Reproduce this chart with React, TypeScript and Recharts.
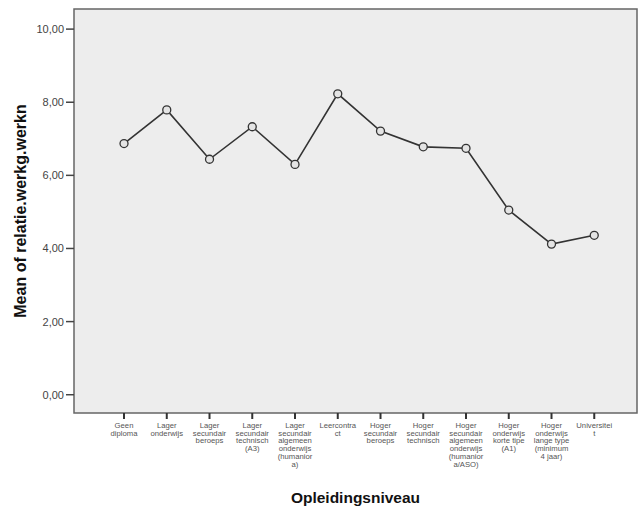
import React from 'react';
import {
  LineChart,
  Line,
  XAxis,
  YAxis,
  ReferenceArea,
  Label,
} from 'recharts';

// category labels, already wrapped the way SPSS wraps them
const categories: string[][] = [
  ['Geen', 'diploma'],
  ['Lager', 'onderwijs'],
  ['Lager', 'secundair', 'beroeps'],
  ['Lager', 'secundair', 'technisch', '(A3)'],
  ['Lager', 'secundair', 'algemeen', 'onderwijs', '(humanior', 'a)'],
  ['Leercontra', 'ct'],
  ['Hoger', 'secundair', 'beroeps'],
  ['Hoger', 'secundair', 'technisch'],
  ['Hoger', 'secundair', 'algemeen', 'onderwijs', '(humanior', 'a/ASO)'],
  ['Hoger', 'onderwijs', 'korte tipe', '(A1)'],
  ['Hoger', 'onderwijs', 'lange type', '(minimum', '4 jaar)'],
  ['Universitei', 't'],
];

const means = [6.87, 7.79, 6.44, 7.33, 6.3, 8.23, 7.21, 6.78, 6.74, 5.05, 4.12, 4.36];

const yTicks = [0, 2, 4, 6, 8, 10];

const data = means.map((v, i) => ({ idx: i, mean: v }));
const xTicks = categories.map((_, i) => i);

const FONT = 'Arial, "Liberation Sans", sans-serif';
const X_MIN = -1.17;
const X_MAX = 12.0;
const Y_MIN = -0.5;
const Y_MAX = 10.55;

// tick mark + wrapped label; y arrives 7px below the axis line
const CategoryTick = (props: any) => {
  const { x, y, payload } = props;
  const lines = categories[payload.value] || [];
  return (
    <g transform={`translate(${x},${y})`}>
      <line x1={0} x2={0} y1={-7} y2={-1} stroke="#333" strokeWidth={2} />
      <text textAnchor="middle" fontSize={7.7} fill="#555" fontFamily={FONT}>
        {lines.map((t, i) => (
          <tspan key={i} x={0} dy={i === 0 ? 8 : 7.7}>
            {t}
          </tspan>
        ))}
      </text>
    </g>
  );
};

export default function App() {
  return (
    <div style={{ position: 'absolute', left: 0, top: 0, background: '#fff' }}>
      <LineChart
        width={638}
        height={513}
        data={data}
        margin={{ top: 9, right: 1, left: 0, bottom: 0 }}
      >
        <XAxis
          dataKey="idx"
          type="number"
          domain={[X_MIN, X_MAX]}
          ticks={xTicks}
          interval={0}
          allowDataOverflow
          tick={<CategoryTick />}
          tickSize={5}
          tickLine={false}
          axisLine={false}
          height={100}
        >
          <Label
            value="Opleidingsniveau"
            position="insideBottom"
            offset={10}
            style={{ fontFamily: FONT, fontSize: 15.5, fontWeight: 'bold', fill: '#111' }}
          />
        </XAxis>
        <YAxis
          type="number"
          domain={[Y_MIN, Y_MAX]}
          ticks={yTicks}
          allowDataOverflow
          width={74}
          tickSize={8}
          tickLine={{ stroke: '#444', strokeWidth: 1.5 }}
          axisLine={false}
          tickFormatter={(v: number) => v.toFixed(2).replace('.', ',')}
          tick={{ fontSize: 11, fill: '#444', fontFamily: FONT }}
        >
          <Label
            value="Mean of relatie.werkg.werkn"
            angle={-90}
            position="insideLeft"
            offset={20}
            style={{
              fontFamily: FONT,
              fontSize: 16,
              fontWeight: 'bold',
              fill: '#111',
              textAnchor: 'middle',
            }}
          />
        </YAxis>
        <ReferenceArea
          x1={X_MIN}
          x2={X_MAX}
          y1={Y_MIN}
          y2={Y_MAX}
          fill="#ededed"
          fillOpacity={1}
          stroke="#666"
          strokeWidth={1.5}
        />
        <Line
          type="linear"
          dataKey="mean"
          stroke="#333"
          strokeWidth={1.6}
          dot={{ r: 4, stroke: '#333', strokeWidth: 1.3, fill: '#e4e4e4' }}
          isAnimationActive={false}
        />
      </LineChart>
    </div>
  );
}
